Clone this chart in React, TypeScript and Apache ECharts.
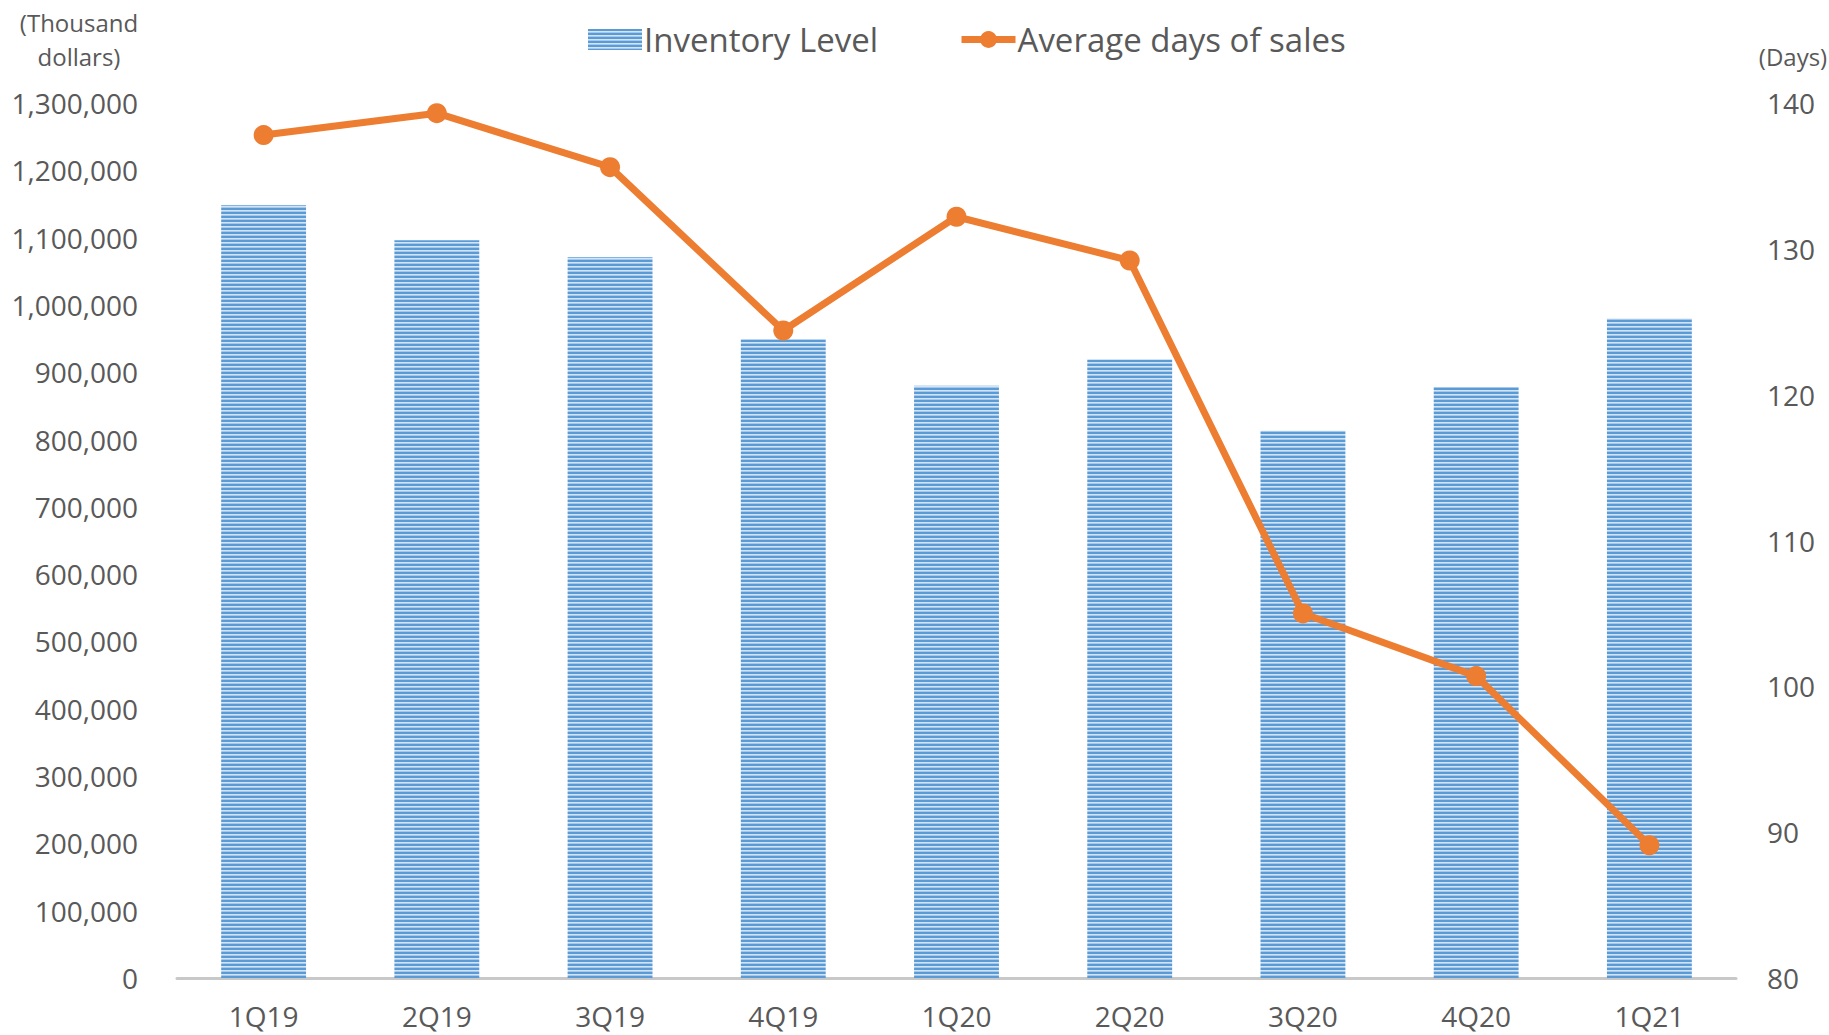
import React, { useEffect, useRef } from "react";
import * as echarts from "echarts";

const categories = ["1Q19", "2Q19", "3Q19", "4Q19", "1Q20", "2Q20", "3Q20", "4Q20", "1Q21"];
const inventoryLevel = [1148000, 1096000, 1071000, 949000, 880000, 919000, 813000, 878000, 980000];
const averageDays = [137.8, 139.3, 135.6, 124.4, 132.2, 129.2, 105.0, 100.7, 89.1];
const seriesNames = ["Inventory Level", "Average days of sales"];
const leftAxisName = ["(Thousand", "dollars)"];
const rightAxisName = "(Days)";

function makeStripe(): string {
  const c = document.createElement("canvas");
  c.width = 4;
  c.height = 4;
  const ctx = c.getContext("2d")!;
  ctx.fillStyle = "#5B9BD5";
  ctx.fillRect(0, 0, 4, 2);
  ctx.fillStyle = "#D2E4F5";
  ctx.fillRect(0, 2, 4, 1);
  ctx.fillStyle = "#A6C8EA";
  ctx.fillRect(0, 3, 4, 1);
  return c.toDataURL();
}

export default function App() {
  const ref = useRef<HTMLDivElement>(null);
  useEffect(() => {
    document.body.style.margin = "0";
    const chart = echarts.init(ref.current!, undefined, { renderer: "svg" });
    const font = "'Open Sans', 'Noto Sans', sans-serif";
    const textColor = "#595959";
    const stripe = { image: makeStripe(), repeat: "repeat", imageWidth: 4, imageHeight: 4 } as any;
    chart.setOption({
      animation: false,
      textStyle: { fontFamily: font },
      legend: {
        left: 583,
        top: 18,
        itemWidth: 54,
        itemHeight: 21,
        itemGap: 80,
        textStyle: { fontSize: 33, color: textColor, fontFamily: font, padding: [0, 0, 0, -3] },
        data: [
          { name: seriesNames[0], icon: "rect" },
          { name: seriesNames[1], lineStyle: { width: 7, color: "#ED7D31" } },
        ],
      },
      grid: { left: 177, right: 93, top: 103, bottom: 57, containLabel: false },
      xAxis: {
        type: "category",
        data: categories,
        axisTick: { show: false },
        axisLine: { lineStyle: { color: "#C8C8C8", width: 3 } },
        axisLabel: { fontSize: 28, color: textColor, margin: 24, fontFamily: font },
      },
      yAxis: [
        {
          type: "value",
          min: 0,
          max: 1300000,
          interval: 100000,
          splitLine: { show: false },
          axisLine: { show: false },
          axisTick: { show: false },
          axisLabel: {
            fontSize: 28,
            color: textColor,
            margin: 39,
            fontFamily: font,
            formatter: (v: number) => v.toLocaleString("en-US"),
          },
        },
        {
          type: "value",
          min: 80,
          max: 140,
          interval: 10,
          splitLine: { show: false },
          axisLine: { show: false },
          axisTick: { show: false },
          axisLabel: { fontSize: 28, color: textColor, margin: 31, fontFamily: font },
        },
      ],
      graphic: [
        {
          type: "text",
          x: 79,
          y: 22,
          style: { text: leftAxisName[0], fontSize: 24, fill: textColor, fontFamily: font, align: "center", verticalAlign: "middle" },
        },
        {
          type: "text",
          x: 79,
          y: 56,
          style: { text: leftAxisName[1], fontSize: 24, fill: textColor, fontFamily: font, align: "center", verticalAlign: "middle" },
        },
        {
          type: "text",
          x: 1793,
          y: 56,
          style: { text: rightAxisName, fontSize: 24, fill: textColor, fontFamily: font, align: "center", verticalAlign: "middle" },
        },
      ],
      series: [
        {
          name: seriesNames[0],
          type: "bar",
          data: inventoryLevel,
          barWidth: "49%",
          itemStyle: { color: stripe },
        },
        {
          name: seriesNames[1],
          type: "line",
          yAxisIndex: 1,
          data: averageDays,
          symbol: "circle",
          symbolSize: 20,
          lineStyle: { color: "#ED7D31", width: 7 },
          itemStyle: { color: "#ED7D31" },
        },
      ],
    });
    return () => chart.dispose();
  }, []);
  return <div ref={ref} style={{ width: 1829, height: 1035 }} />;
}
